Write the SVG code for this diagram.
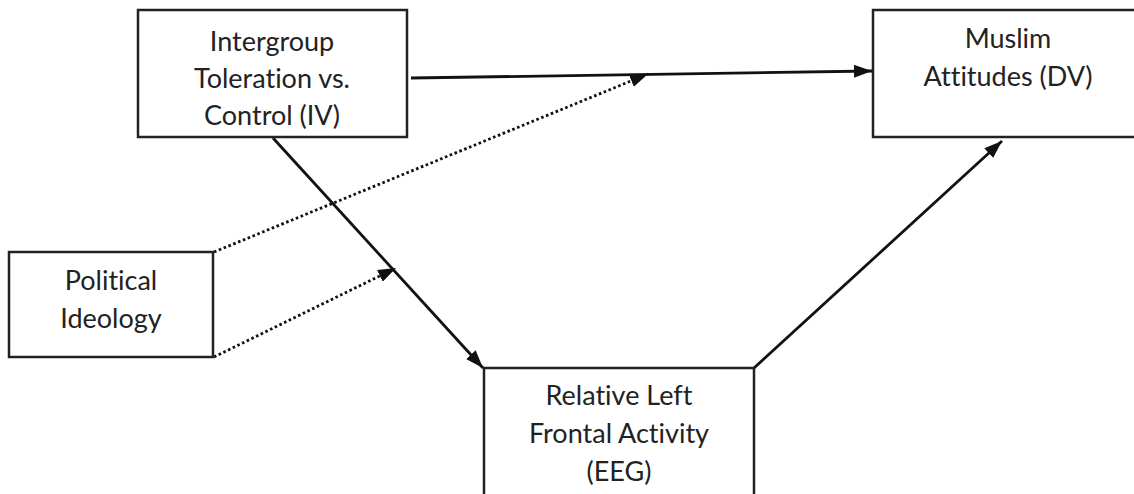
<svg xmlns="http://www.w3.org/2000/svg" width="1134" height="494" viewBox="0 0 1134 494">
<defs>
<style>
.box{fill:#fff;stroke:#222;stroke-width:2.5}
.lbl{font-family:Lato,"Open Sans","Liberation Sans",sans-serif;font-size:27px;fill:#222;text-anchor:middle;font-variant-ligatures:none}
.solid{stroke:#111;stroke-width:2.8;fill:none}
.dot{stroke:#111;stroke-width:2.8;fill:none;stroke-dasharray:2.6 2.6}
</style>
<marker id="ah" viewBox="0 0 18 13" refX="18" refY="6.5" markerWidth="18" markerHeight="13" markerUnits="userSpaceOnUse" orient="auto">
<path d="M0,0 L18,6.5 L0,13 Z" fill="#111"/>
</marker>
</defs>
<g id="connectors">
<line class="solid" x1="411" y1="78" x2="872" y2="71" marker-end="url(#ah)"/>
<line class="solid" x1="273" y1="138" x2="483" y2="368" marker-end="url(#ah)"/>
<line class="solid" x1="754" y1="368" x2="1002" y2="141" marker-end="url(#ah)"/>
<line class="dot" x1="214" y1="252" x2="648" y2="74" marker-end="url(#ah)"/>
<line class="dot" x1="214" y1="357" x2="396" y2="268" marker-end="url(#ah)"/>
</g>
<g id="node-iv">
<rect class="box" x="138" y="10" width="269" height="127"/>
<text class="lbl" x="272" y="51">Intergroup</text>
<text class="lbl" x="272" y="88">Toleration vs.</text>
<text class="lbl" x="272" y="125">Control (IV)</text>
</g>
<g id="node-dv">
<rect class="box" x="873" y="10" width="280" height="127"/>
<text class="lbl" x="1008" y="48">Muslim</text>
<text class="lbl" x="1008" y="86">Attitudes (DV)</text>
</g>
<g id="node-pi">
<rect class="box" x="9" y="252" width="204" height="105"/>
<text class="lbl" x="111" y="290">Political</text>
<text class="lbl" x="111" y="328">Ideology</text>
</g>
<g id="node-eeg">
<rect class="box" x="484" y="368" width="270" height="140"/>
<text class="lbl" x="619" y="405">Relative Left</text>
<text class="lbl" x="619" y="443">Frontal Activity</text>
<text class="lbl" x="619" y="481">(EEG)</text>
</g>
</svg>
